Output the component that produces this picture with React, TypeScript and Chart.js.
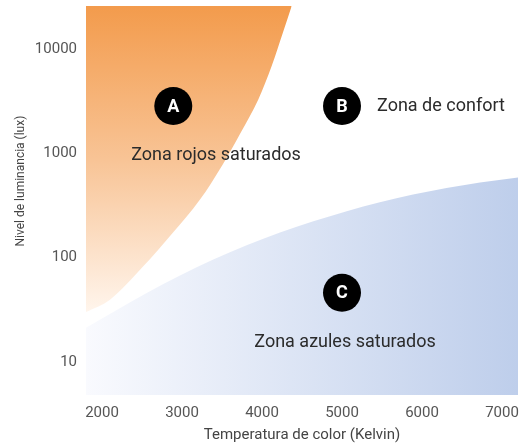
import React, { useEffect, useRef } from "react";
import { Chart, registerables } from "chart.js";

Chart.register(...registerables);

// Zone A boundary (red/orange saturated): [Kelvin, lux]
const redK = [1800, 2100, 2513, 2888, 3225, 3496, 3735, 3954, 4121, 4263, 4371];
const redLux = [30, 39.5, 82, 174, 361, 755, 1590, 3300, 6900, 14560, 26000];

// Zone C boundary (blue saturated): [Kelvin, lux]
const blueK = [1800, 2559, 3391, 4225, 5059, 5888, 6725, 7200];
const blueLux = [21.2, 45.8, 95.7, 174, 279, 403, 526, 588];

const xTicks = [2000, 3000, 4000, 5000, 6000, 7000];
const yTicks = [10, 100, 1000, 10000];

// Markers: letter, Kelvin, lux
const markerLetters = ["A", "B", "C"];
const markerK = [2891, 5000, 5000];
const markerLux = [2850, 2850, 46];

// Zone labels: text, Kelvin, lux, align
const zoneTexts = ["Zona rojos saturados", "Zona de confort", "Zona azules saturados"];
const zoneK = [3425, 5438, 5038];
const zoneLux = [955, 2850, 15.2];
const zoneAlign = ["center", "left", "center"];

const xTitle = "Temperatura de color (Kelvin)";
const yTitle = "Nivel de luminancia (lux)";

const FONT = "Roboto, 'Noto Sans', sans-serif";

export default function App() {
  const ref = useRef<HTMLCanvasElement>(null);

  useEffect(() => {
    if (!ref.current) return;

    const annotations = {
      id: "zoneAnnotations",
      afterDatasetsDraw(chart: any) {
        const { ctx, scales } = chart;
        const xs = scales.x;
        const ys = scales.y;
        ctx.save();
        for (let i = 0; i < markerLetters.length; i++) {
          const px = xs.getPixelForValue(markerK[i]);
          const py = ys.getPixelForValue(markerLux[i]);
          ctx.beginPath();
          ctx.arc(px, py, 19, 0, Math.PI * 2);
          ctx.fillStyle = "#000";
          ctx.fill();
          ctx.fillStyle = "#fff";
          ctx.font = `bold 18px ${FONT}`;
          ctx.textAlign = "center";
          ctx.textBaseline = "middle";
          ctx.fillText(markerLetters[i], px, py + 1);
        }
        for (let i = 0; i < zoneTexts.length; i++) {
          const px = xs.getPixelForValue(zoneK[i]);
          const py = ys.getPixelForValue(zoneLux[i]);
          ctx.fillStyle = "#2b2b2b";
          ctx.font = `18px ${FONT}`;
          ctx.textAlign = zoneAlign[i] as CanvasTextAlign;
          ctx.textBaseline = "middle";
          ctx.fillText(zoneTexts[i], px, py);
        }
        // y-axis title
        const area = chart.chartArea;
        ctx.translate(21, area.top + area.height * 0.45);
        ctx.rotate(-Math.PI / 2);
        ctx.fillStyle = "#444";
        ctx.font = `12px ${FONT}`;
        ctx.textAlign = "center";
        ctx.textBaseline = "middle";
        ctx.fillText(yTitle, 0, 0);
        ctx.restore();
      },
    };

    const chart = new Chart(ref.current, {
      type: "line",
      data: {
        datasets: [
          {
            label: "Zona rojos saturados",
            data: redK.map((k, i) => ({ x: k, y: redLux[i] })),
            borderWidth: 0,
            pointRadius: 0,
            cubicInterpolationMode: "monotone",
            fill: "end",
            backgroundColor: (c: any) => {
              const { chart } = c;
              const area = chart.chartArea;
              if (!area) return "rgba(243,156,78,1)";
              const bottom = chart.scales.y.getPixelForValue(28);
              const g = chart.ctx.createLinearGradient(0, area.top, 0, bottom);
              g.addColorStop(0, "rgb(243,155,76)");
              g.addColorStop(0.5, "rgb(248,196,150)");
              g.addColorStop(1, "rgb(255,246,238)");
              return g;
            },
          },
          {
            label: "Zona azules saturados",
            data: blueK.map((k, i) => ({ x: k, y: blueLux[i] })),
            borderWidth: 0,
            pointRadius: 0,
            cubicInterpolationMode: "monotone",
            fill: "start",
            backgroundColor: (c: any) => {
              const { chart } = c;
              const area = chart.chartArea;
              if (!area) return "rgba(190,206,235,1)";
              const g = chart.ctx.createLinearGradient(area.left, 0, area.right, 0);
              g.addColorStop(0, "rgb(249,250,254)");
              g.addColorStop(1, "rgb(190,206,235)");
              return g;
            },
          },
        ],
      },
      options: {
        animation: false,
        responsive: true,
        maintainAspectRatio: false,
        layout: { padding: { top: 6, right: 10, left: 0, bottom: 0 } },
        plugins: {
          legend: { display: false },
          tooltip: { enabled: false },
        },
        scales: {
          x: {
            type: "linear",
            min: 1800,
            max: 7200,
            grid: { display: false, drawTicks: false },
            border: { display: false },
            afterBuildTicks: (s: any) => {
              s.ticks = xTicks.map((v) => ({ value: v }));
            },
            afterFit: (s: any) => {
              s.height = 53;
              s.paddingLeft = 0;
              s.paddingRight = 0;
            },
            ticks: {
              color: "#555",
              font: { family: FONT, size: 15 },
              padding: 9,
              callback: (v: any) => String(v),
            },
            title: {
              display: true,
              text: xTitle,
              color: "#444",
              font: { family: FONT, size: 15 },
              padding: { bottom: 4, top: 0 },
            },
          },
          y: {
            type: "logarithmic",
            min: 4.8,
            max: 26000,
            grid: { display: false, drawTicks: false },
            border: { display: false },
            afterBuildTicks: (s: any) => {
              s.ticks = yTicks.map((v) => ({ value: v }));
            },
            afterFit: (s: any) => {
              s.width = 86;
              s.paddingTop = 0;
              s.paddingBottom = 0;
            },
            ticks: {
              color: "#555",
              font: { family: FONT, size: 15 },
              padding: 9,
              callback: (v: any) => String(v),
            },
            title: { display: false },
          },
        },
      },
      plugins: [annotations],
    });

    return () => chart.destroy();
  }, []);

  return (
    <div style={{ position: "absolute", left: 0, top: 0, width: 528, height: 448, background: "#fff" }}>
      <canvas ref={ref} />
    </div>
  );
}
